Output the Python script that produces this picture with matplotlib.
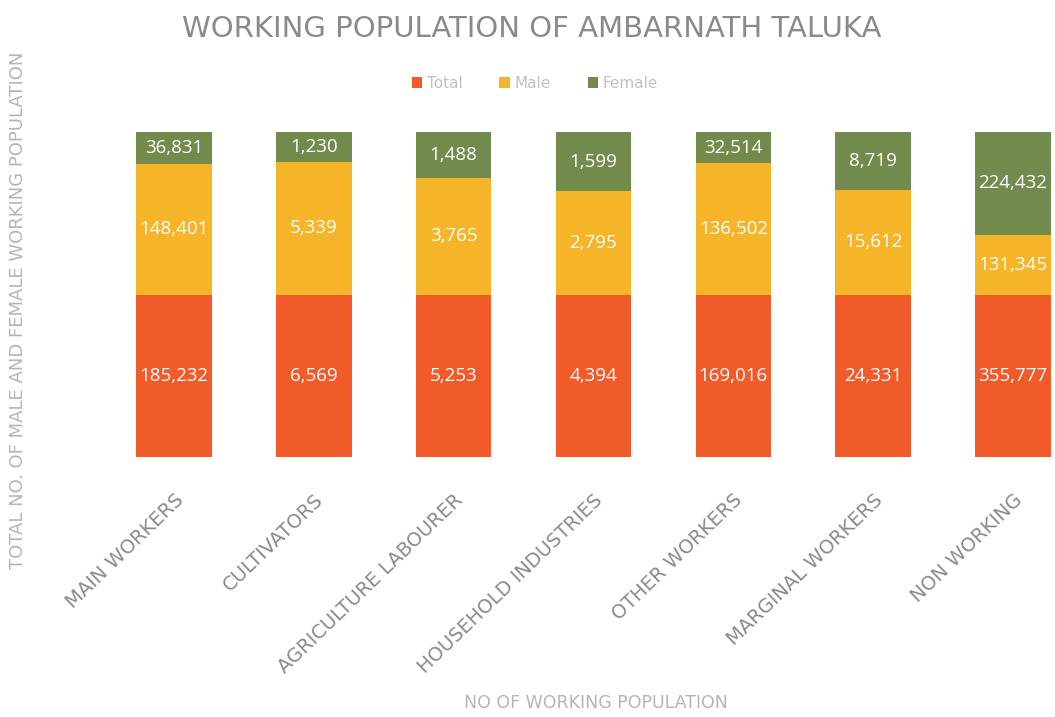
import matplotlib.pyplot as plt
import numpy as np

categories = ["MAIN WORKERS", "CULTIVATORS", "AGRICULTURE LABOURER",
              "HOUSEHOLD INDUSTRIES", "OTHER WORKERS", "MARGINAL WORKERS",
              "NON WORKING"]
total = [185232, 6569, 5253, 4394, 169016, 24331, 355777]
male = [148401, 5339, 3765, 2795, 136502, 15612, 131345]
female = [36831, 1230, 1488, 1599, 32514, 8719, 224432]

series = [("Total", total, "#F15A29"),
          ("Male", male, "#F6B428"),
          ("Female", female, "#728A4C")]

plt.rcParams['font.family'] = ['Open Sans', 'DejaVu Sans']
wide = ['DejaVu Sans']

fig = plt.figure(figsize=(10.55, 7.17), dpi=100)
W, H = 1055, 717
ax = fig.add_axes([104 / W, (H - 457) / H, (W - 104) / W, 325 / H])

x = np.arange(len(categories))
sums = np.array(total) + np.array(male) + np.array(female)
bottom = np.zeros(len(categories))
for name, vals, color in series:
    frac = np.array(vals) / sums
    ax.bar(x, frac, width=0.54, bottom=bottom, color=color, label=name)
    for xi, b, f, v in zip(x, bottom, frac, vals):
        ax.text(xi, b + f / 2, f"{v:,}", ha='center', va='center',
                color='white', fontsize=13.5)
    bottom += frac

ax.set_xlim(-0.5, 6.3)
ax.set_ylim(0, 1)
for s in ax.spines.values():
    s.set_visible(False)
ax.set_yticks([])
ax.set_xticks(x)
ax.set_xticklabels(categories, rotation=44, ha='right', rotation_mode='anchor',
                   color='#8a8a8a', fontsize=14, family=wide)
ax.tick_params(axis='x', length=0, pad=24)

fig.text(532 / W, 1 - 29 / H, "WORKING POPULATION OF AMBARNATH TALUKA",
         ha='center', va='center', color='#8a8a8a', fontsize=21, family=wide)
fig.legend(loc='center', bbox_to_anchor=(535 / W, 1 - 83 / H), ncol=3,
           frameon=False, handlelength=0.7, handleheight=0.7,
           columnspacing=2.4, handletextpad=0.3, labelcolor='#c0c0c0',
           prop={'family': wide, 'size': 11})
fig.text(596 / W, 1 - 703 / H, "NO OF WORKING POPULATION",
         ha='center', va='center', color='#b5b5b5', fontsize=12.5, family=wide)
fig.text(18 / W, 1 - 310 / H, "TOTAL NO. OF MALE AND FEMALE WORKING POPULATION",
         ha='center', va='center', rotation=90, color='#b5b5b5', fontsize=13,
         family=wide)

fig.savefig("out.png", dpi=100)
